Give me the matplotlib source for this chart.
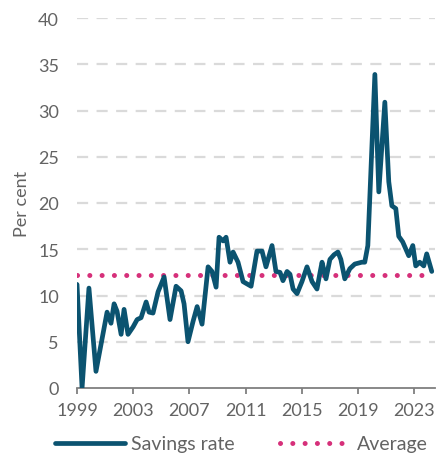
import matplotlib
matplotlib.use("Agg")
import matplotlib.pyplot as plt
from matplotlib.lines import Line2D

# Data (fractional year, savings rate in per cent)
dates = [1999.00, 1999.36, 1999.85, 2000.35, 2001.14, 2001.42, 2001.64, 2001.85,
         2002.14, 2002.35, 2002.63, 2002.99, 2003.28, 2003.56, 2003.92, 2004.13,
         2004.41, 2004.77, 2005.20, 2005.62, 2006.05, 2006.41, 2006.62, 2006.90,
         2007.26, 2007.55, 2007.90, 2008.33, 2008.61, 2008.90, 2009.11, 2009.40,
         2009.61, 2009.89, 2010.11, 2010.46, 2010.82, 2011.39, 2011.81, 2012.17,
         2012.45, 2012.88, 2013.16, 2013.45, 2013.66, 2013.95, 2014.16, 2014.38,
         2014.66, 2015.01, 2015.37, 2015.73, 2016.08, 2016.30, 2016.44, 2016.72,
         2017.00, 2017.29, 2017.57, 2017.78, 2018.06, 2018.42, 2018.77, 2019.27,
         2019.48, 2019.70, 2020.20, 2020.48, 2020.91, 2021.19, 2021.41, 2021.69,
         2021.90, 2022.18, 2022.61, 2022.90, 2023.11, 2023.39, 2023.68, 2023.89,
         2024.25]
savings = [11.2, 0.0, 10.8, 1.8, 8.2, 7.0, 9.1, 8.3,
           5.8, 8.5, 5.8, 6.6, 7.4, 7.6, 9.3, 8.2,
           8.1, 10.4, 12.0, 7.4, 11.0, 10.5, 9.1, 5.0,
           7.2, 8.8, 6.9, 13.1, 12.6, 10.9, 16.3, 15.9,
           16.3, 13.6, 14.7, 13.6, 11.5, 11.0, 14.8, 14.8,
           13.1, 15.4, 12.6, 12.5, 11.6, 12.6, 12.3, 10.7,
           10.2, 11.5, 13.1, 11.5, 10.7, 12.5, 13.6, 11.8,
           13.9, 14.4, 14.7, 13.9, 11.8, 12.9, 13.4, 13.6,
           13.6, 15.4, 33.9, 21.2, 30.9, 22.3, 19.7, 19.4,
           16.4, 15.8, 14.3, 15.4, 13.2, 13.6, 13.2, 14.5,
           12.6]
average = 12.2
xticks = [1999, 2003, 2007, 2011, 2015, 2019, 2023]
yticks = [0, 5, 10, 15, 20, 25, 30, 35, 40]

plt.rcParams['font.family'] = ['Lato', 'DejaVu Sans']

fig = plt.figure(figsize=(4.39, 4.60), dpi=100)
ax = fig.add_axes([77/439, 71/460, 358/439, 370/460])

line_col = '#0b5370'
avg_col = '#d6307a'
txt_col = '#636363'

ax.plot(dates, savings, color=line_col, lw=3.4, solid_joinstyle='round',
        solid_capstyle='round', zorder=3, label='Savings rate')
ax.plot([dates[0], dates[-1]], [average, average], color=avg_col, lw=3.6,
        linestyle=(0, (0.01, 2.45)), dash_capstyle='round', zorder=2, label='Average')

ax.set_xlim(1999, 2024.48)
ax.set_ylim(0, 40)
ax.set_xticks(xticks)
ax.set_yticks(yticks)
ax.set_xticklabels([str(t) for t in xticks])

for y in yticks[1:]:
    ax.axhline(y, color='#dadada', lw=1.6, linestyle=(0, (5, 3.8)), zorder=1)

for s in ['top', 'right', 'left']:
    ax.spines[s].set_visible(False)
ax.spines['bottom'].set_color('#7f7f7f')
ax.spines['bottom'].set_linewidth(1.3)

ax.tick_params(axis='y', length=0, pad=13, labelsize=13, labelcolor=txt_col)
ax.tick_params(axis='x', length=4, width=1.3, color='#7f7f7f', pad=6,
               labelsize=13, labelcolor=txt_col)

ax.set_ylabel('Per cent', fontsize=13, color=txt_col, labelpad=6)

handles = [Line2D([0], [0], color=line_col, lw=3.4, solid_capstyle='round'),
           Line2D([0], [0], color=avg_col, lw=3.6, linestyle=(0, (0.01, 2.45)),
                  dash_capstyle='round')]
leg = fig.legend(handles, ['Savings rate', 'Average'], loc='center',
                 bbox_to_anchor=(241/439, 1 - 445/460), ncol=2, frameon=False,
                 fontsize=14, handlelength=3.6, handletextpad=0.35,
                 columnspacing=2.3)
for t in leg.get_texts():
    t.set_color(txt_col)

fig.savefig('out.png', dpi=100)
